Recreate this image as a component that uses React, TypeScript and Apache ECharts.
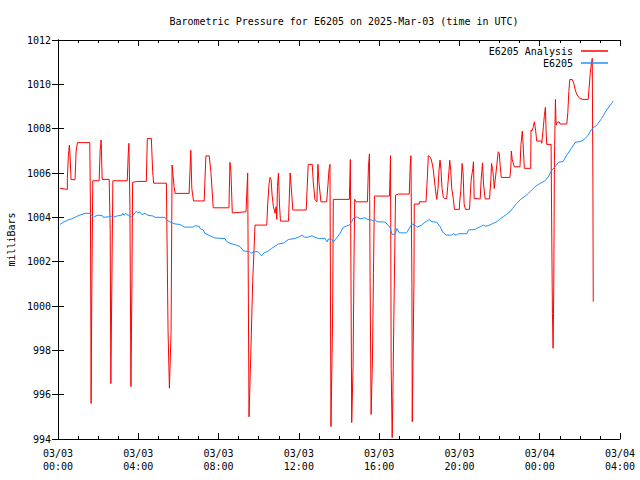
import React, { useEffect, useRef } from "react";
import * as echarts from "echarts";

// time in minutes since 2025-03-03 00:00 UTC
const analysisMinutes = [
  6, 28, 28, 31, 34, 36, 39, 51, 54, 58, 95, 97, 99, 101, 104, 123, 126, 129, 132, 153,
  156, 158, 161, 164, 207, 210, 212, 215, 218, 221, 223, 238, 264, 267, 279, 283, 286, 324, 329, 333,
  338, 341, 347, 350, 392, 397, 400, 405, 437, 442, 452, 457, 464, 511, 514, 517, 521, 562, 567, 571,
  576, 579, 582, 589, 624, 627, 631, 634, 637, 640, 644, 649, 652, 654, 656, 659, 662, 665, 689, 694,
  697, 702, 742, 745, 748, 760, 763, 768, 774, 777, 780, 786, 803, 807, 810, 813, 816, 819, 821, 823,
  871, 874, 878, 882, 885, 887, 891, 925, 928, 931, 933, 936, 940, 943, 946, 991, 994, 996, 999, 1001,
  1004, 1009, 1018, 1050, 1053, 1055, 1058, 1059, 1061, 1064, 1065, 1080, 1080, 1100, 1104, 1107, 1114, 1119, 1122, 1129,
  1132, 1136, 1139, 1142, 1145, 1148, 1152, 1155, 1162, 1165, 1169, 1171, 1174, 1177, 1182, 1185, 1200, 1200, 1204, 1208,
  1211, 1214, 1218, 1230, 1235, 1240, 1242, 1244, 1262, 1265, 1269, 1272, 1277, 1290, 1294, 1296, 1299, 1302, 1304, 1307,
  1312, 1316, 1319, 1322, 1325, 1351, 1354, 1355, 1358, 1364, 1381, 1384, 1388, 1390, 1394, 1413, 1414, 1417, 1421, 1424,
  1428, 1431, 1446, 1446, 1451, 1454, 1457, 1459, 1461, 1474, 1476, 1478, 1480, 1482, 1484, 1487, 1489, 1491, 1493, 1499,
  1501, 1521, 1524, 1527, 1530, 1537, 1542, 1547, 1552, 1559, 1569, 1585, 1591, 1594, 1597, 1599, 1600,
];
const analysisMbar = [
  1005.31, 1005.26, 1005.76, 1006.77, 1007.26, 1006.8, 1005.7, 1005.7, 1006.96, 1007.37, 1007.37, 1004.48, 995.6, 1000.64, 1005.65, 1005.65, 1007.03, 1007.49, 1005.71, 1005.71,
  1003.46, 996.5, 1001.1, 1005.65, 1005.65, 1006.88, 1007.34, 1004.48, 996.36, 1001.0, 1005.58, 1005.62, 1005.62, 1007.56, 1007.56, 1006.06, 1005.54, 1005.54, 998.87, 996.29,
  998.8, 1006.36, 1005.38, 1005.08, 1005.08, 1007.03, 1005.31, 1004.74, 1004.74, 1006.77, 1006.77, 1006.06, 1004.43, 1004.43, 1006.48, 1006.06, 1004.2, 1004.25, 1006.0, 995.0,
  997.65, 999.37, 1001.1, 1003.65, 1003.65, 1004.63, 1005.53, 1005.8, 1005.7, 1005.0, 1004.48, 1004.18, 1004.48, 1003.91, 1005.4, 1006.0, 1004.6, 1003.83, 1003.83, 1006.0,
  1005.4, 1004.33, 1004.33, 1005.4, 1006.39, 1006.39, 1005.6, 1004.81, 1004.7, 1006.39, 1005.6, 1004.7, 1004.7, 1005.46, 1006.13, 1006.39, 994.56, 997.56, 999.68, 1004.81,
  1004.81, 1006.61, 994.74, 997.26, 1002.3, 1004.81, 1004.7, 1004.7, 1006.28, 1006.86, 1001.02, 995.11, 997.56, 1001.5, 1004.96, 1004.96, 1006.78, 997.19, 994.06, 995.91,
  999.52, 1005.0, 1005.05, 1005.05, 1006.36, 1006.78, 1000.87, 994.78, 997.3, 1001.0, 1004.6, 1004.6, 1004.7, 1004.7, 1005.76, 1006.78, 1006.7, 1006.4, 1006.13, 1005.16,
  1004.81, 1005.3, 1006.13, 1006.58, 1006.13, 1005.3, 1004.9, 1004.85, 1004.85, 1005.4, 1006.13, 1006.58, 1006.13, 1005.3, 1004.81, 1004.36, 1004.36, 1004.56, 1005.2, 1006.43,
  1006.0, 1004.6, 1004.36, 1004.36, 1005.68, 1006.21, 1006.51, 1004.85, 1004.83, 1005.7, 1006.46, 1005.5, 1004.83, 1004.83, 1005.68, 1006.43, 1006.2, 1005.8, 1005.3, 1005.7,
  1006.4, 1006.96, 1006.9, 1006.3, 1005.8, 1005.8, 1006.36, 1006.99, 1006.6, 1006.28, 1006.28, 1007.29, 1007.89, 1007.4, 1006.21, 1006.21, 1007.94, 1007.9, 1008.09, 1008.31,
  1007.9, 1007.44, 1007.44, 1007.34, 1008.1, 1008.6, 1008.96, 1007.9, 1007.29, 1007.29, 1003.2, 999.67, 998.09, 1000.87, 1006.58, 1009.32, 1008.16, 1008.24, 1008.3, 1008.3,
  1008.21, 1008.21, 1008.72, 1009.67, 1010.22, 1010.22, 1010.04, 1009.7, 1009.52, 1009.37, 1009.32, 1009.32, 1010.5, 1010.87, 1011.17, 1005.68, 1000.19,
];

const observedMinutes = [
  6, 15, 30, 42, 51, 63, 81, 96, 102, 105, 117, 132, 135, 150, 155, 164, 176, 191, 194, 197,
  203, 206, 212, 218, 224, 230, 236, 239, 245, 251, 260, 269, 284, 290, 320, 325, 335, 350, 365, 377,
  404, 410, 422, 425, 434, 439, 454, 469, 499, 504, 514, 534, 544, 554, 572, 577, 589, 598, 604, 609,
  616, 624, 629, 639, 649, 659, 673, 689, 709, 718, 729, 738, 747, 759, 768, 778, 798, 805, 808, 818,
  823, 833, 843, 853, 863, 871, 878, 883, 893, 903, 918, 924, 933, 943, 948, 953, 978, 988, 993, 998,
  1008, 1013, 1020, 1042, 1052, 1058, 1067, 1073, 1087, 1097, 1110, 1118, 1132, 1142, 1152, 1160, 1177, 1182, 1190, 1197,
  1222, 1227, 1247, 1252, 1262, 1272, 1277, 1286, 1301, 1312, 1323, 1331, 1341, 1351, 1359, 1371, 1386, 1396, 1406, 1416,
  1426, 1441, 1456, 1466, 1476, 1486, 1496, 1510, 1521, 1531, 1546, 1566, 1576, 1585, 1595, 1611, 1625, 1640, 1655, 1660,
];
const observedMbar = [
  1003.68, 1003.77, 1003.88, 1003.94, 1004.0, 1004.09, 1004.18, 1004.18, 1004.06, 1004.0, 1004.09, 1004.09, 1004.0, 1004.02, 1004.06, 1004.0, 1004.06, 1004.1, 1004.18, 1004.09,
  1004.18, 1004.12, 1004.09, 1004.0, 1004.09, 1004.21, 1004.27, 1004.21, 1004.24, 1004.12, 1004.18, 1004.09, 1004.06, 1004.0, 1004.0, 1003.88, 1003.79, 1003.7, 1003.68, 1003.56,
  1003.56, 1003.62, 1003.6, 1003.49, 1003.43, 1003.28, 1003.17, 1003.07, 1003.04, 1002.91, 1002.83, 1002.74, 1002.68, 1002.49, 1002.45, 1002.38, 1002.45, 1002.45, 1002.35, 1002.26,
  1002.4, 1002.45, 1002.49, 1002.6, 1002.7, 1002.8, 1002.83, 1003.0, 1003.05, 1003.1, 1003.19, 1003.1, 1003.1, 1003.17, 1003.1, 1003.05, 1003.05, 1002.89, 1003.02, 1003.0,
  1002.89, 1003.07, 1003.28, 1003.55, 1003.61, 1003.65, 1003.8, 1003.97, 1004.02, 1003.93, 1003.98, 1003.91, 1003.9, 1003.83, 1003.9, 1003.8, 1003.79, 1003.61, 1003.55, 1003.23,
  1003.25, 1003.5, 1003.3, 1003.3, 1003.55, 1003.7, 1003.65, 1003.55, 1003.65, 1003.78, 1003.9, 1003.8, 1003.78, 1003.58, 1003.3, 1003.2, 1003.2, 1003.26, 1003.2, 1003.26,
  1003.26, 1003.43, 1003.45, 1003.5, 1003.58, 1003.65, 1003.6, 1003.62, 1003.73, 1003.8, 1003.95, 1004.03, 1004.13, 1004.25, 1004.4, 1004.63, 1004.85, 1004.95, 1005.08, 1005.23,
  1005.38, 1005.53, 1005.65, 1005.83, 1006.13, 1006.28, 1006.48, 1006.52, 1006.81, 1007.03, 1007.38, 1007.44, 1007.56, 1007.71, 1007.98, 1008.16, 1008.46, 1008.84, 1009.14, 1009.25,
];

const xTickLabels = [
  "03/03\n00:00", "03/03\n04:00", "03/03\n08:00", "03/03\n12:00",
  "03/03\n16:00", "03/03\n20:00", "03/04\n00:00", "03/04\n04:00",
];

const FONT = "'DejaVu Sans Mono', monospace";

export default function App() {
  const ref = useRef<HTMLDivElement>(null);
  useEffect(() => {
    if (!ref.current) return;
    const chart = echarts.init(ref.current, undefined, { renderer: "svg" });
    const pair = (xs: number[], ys: number[]) => xs.map((x, i) => [x, ys[i]]);
    const axisLine = { show: true, lineStyle: { color: "#000", width: 1 } };
    const xCommon = {
      type: "value" as const,
      min: 0,
      max: 1680,
      interval: 240,
      splitLine: { show: false },
      axisLine,
      axisTick: { show: true, inside: true, length: 6, lineStyle: { color: "#000" } },
      minorTick: { show: true, splitNumber: 4, length: 3, lineStyle: { color: "#000" } },
    };
    const yCommon = {
      type: "value" as const,
      min: 994,
      max: 1012,
      interval: 2,
      splitLine: { show: false },
      axisLine,
      axisTick: { show: true, inside: true, length: 6, lineStyle: { color: "#000" } },
    };
    chart.setOption({
      animation: false,
      backgroundColor: "#fff",
      textStyle: { fontFamily: FONT },
      title: {
        text: "Barometric Pressure for E6205 on 2025-Mar-03 (time in UTC)",
        left: 339,
        textAlign: "center",
        top: 11,
        textStyle: { fontFamily: FONT, fontSize: 10, fontWeight: "normal", color: "#000" },
      },
      legend: {
        orient: "vertical",
        align: "right",
        right: 27,
        top: 41,
        itemGap: 2,
        itemWidth: 27,
        itemHeight: 1.5,
        icon: "rect",
        textStyle: { fontFamily: FONT, fontSize: 10, color: "#000", padding: [0, 3, 0, 0] },
        data: [
          { name: "E6205 Analysis", itemStyle: { color: "#ff0000" } },
          { name: "E6205", itemStyle: { color: "#1e90ff" } },
        ],
      },
      grid: { left: 58, right: 20, top: 40, bottom: 41, containLabel: false, outerBoundsMode: "none" },
      xAxis: [
        {
          ...xCommon,
          position: "bottom",
          axisLabel: {
            show: true,
            fontFamily: FONT,
            fontSize: 10,
            color: "#000",
            lineHeight: 13,
            margin: 8,
            formatter: (v: number) => xTickLabels[Math.round(v / 240)] ?? "",
          },
        },
        { ...xCommon, position: "top", axisLabel: { show: false } },
      ],
      yAxis: [
        {
          ...yCommon,
          position: "left",
          name: "milliBars",
          nameLocation: "middle",
          nameGap: 42,
          nameRotate: 90,
          nameTextStyle: { fontFamily: FONT, fontSize: 10, color: "#000" },
          axisLabel: {
            show: true,
            fontFamily: FONT,
            fontSize: 10,
            color: "#000",
            margin: 7,
            formatter: (v: number) => String(v),
          },
        },
        { ...yCommon, position: "right", axisLabel: { show: false } },
      ],
      series: [
        {
          name: "E6205 Analysis",
          type: "line",
          data: pair(analysisMinutes, analysisMbar),
          showSymbol: false,
          symbol: "none",
          lineStyle: { color: "#ff0000", width: 1 },
          itemStyle: { color: "#ff0000" },
          z: 2,
        },
        {
          name: "E6205",
          type: "line",
          data: pair(observedMinutes, observedMbar),
          showSymbol: false,
          symbol: "none",
          lineStyle: { color: "#1e90ff", width: 1 },
          itemStyle: { color: "#1e90ff" },
          z: 3,
        },
      ],
    });
    return () => chart.dispose();
  }, []);
  return <div ref={ref} style={{ width: 640, height: 480, position: "absolute", left: 0, top: 0 }} />;
}
